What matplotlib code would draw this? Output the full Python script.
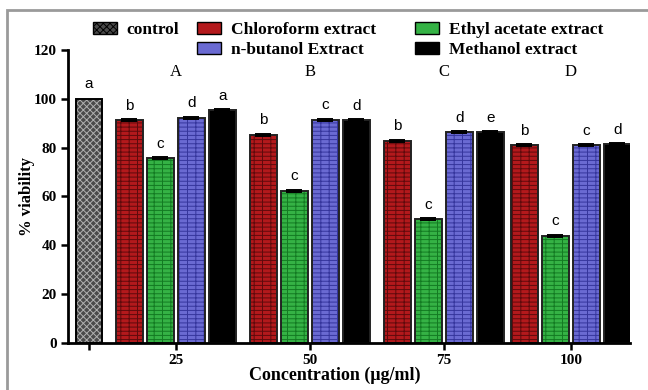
import numpy as np
import matplotlib.pyplot as plt
from matplotlib.patches import Patch, Rectangle

# data
groups = ['25', '50', '75', '100']
group_tags = ['A', 'B', 'C', 'D']
control_value = 100.0
control_letter = 'a'
series = ['Chloroform extract', 'Ethyl acetate extract', 'n-butanol Extract', 'Methanol extract']
chloroform = [91.2, 85.3, 82.8, 81.0]
ethyl_acetate = [75.6, 62.4, 50.6, 44.0]
butanol = [92.3, 91.5, 86.2, 81.0]
methanol = [95.4, 91.2, 86.2, 81.5]
letters = [['b', 'b', 'b', 'b'],
           ['c', 'c', 'c', 'c'],
           ['d', 'c', 'd', 'c'],
           ['a', 'd', 'e', 'd']]

plt.rcParams['hatch.linewidth'] = 0.7
serif = 'Liberation Serif'

face = ['#b3191c', '#35b245', '#6a6ad2', '#000000']
hatchc = ['#5e0a0c', '#137a22', '#35359c', '#000000']
hatches = ['----||', '----||', '----||', None]

fig = plt.figure(figsize=(6.48, 3.9), dpi=100)
ax = fig.add_axes([0.105, 0.1205, 0.867, 0.7515])

centers = np.array([2.8, 7.12, 11.45, 15.55])
offsets = [-1.5, -0.5, 0.5, 1.5]
w = 0.86

# control bar
ax.bar(0, control_value, w, color='#4a4a4a', edgecolor='#b0b0b0', linewidth=0, hatch='xxxxx')
ax.bar(0, control_value, w, fill=False, edgecolor='black', linewidth=1.4)
ax.text(0, control_value + 3, control_letter, ha='center', va='bottom', fontsize=11, family='Liberation Sans')

values = [chloroform, ethyl_acetate, butanol, methanol]
for i, vals in enumerate(values):
    x = centers + offsets[i]
    ax.bar(x, vals, w, color=face[i], edgecolor=hatchc[i], linewidth=0, hatch=hatches[i])
    ax.bar(x, vals, w, fill=False, edgecolor='#222222', linewidth=1.4)
    ax.errorbar(x, vals, yerr=0.4, fmt='none', ecolor='black', capsize=6, elinewidth=1, capthick=1.4)
    for xi, v, lt in zip(x, vals, letters[i]):
        ax.text(xi, v + 3, lt, ha='center', va='bottom', fontsize=11, family='Liberation Sans')

for c, t in zip(centers, group_tags):
    ax.text(c, 111, t, ha='center', va='center', fontsize=12, family=serif)

ax.set_xlim(-0.68, 17.45)
ax.set_ylim(0, 120)
ax.set_yticks(range(0, 121, 20))
ax.set_xticks([0] + list(centers))
ax.set_xticklabels([''] + groups)
for lab in ax.get_xticklabels() + ax.get_yticklabels():
    lab.set_family(serif)
    lab.set_fontweight('bold')
    lab.set_fontsize(11)
ax.tick_params(width=1.8, length=5, direction='out', pad=3)
for s in ['top', 'right']:
    ax.spines[s].set_visible(False)
for s in ['left', 'bottom']:
    ax.spines[s].set_linewidth(2)

ax.set_ylabel('% viability', family=serif, fontweight='bold', fontsize=12)
ax.yaxis.set_label_coords(-0.058, 0.5)
ax.set_xlabel('Concentration (\u03bcg/ml)', family=serif, fontweight='bold', fontsize=13)
ax.xaxis.set_label_coords(0.475, -0.082)

legend_font = {'family': serif, 'weight': 'bold', 'size': 12.5}
handles_a = [
    Patch(facecolor='#4a4a4a', edgecolor='black', hatch='xxxxx', label='control'),
    Patch(visible=False, label=' '),
    Patch(facecolor=face[0], edgecolor='black', label=series[0]),
    Patch(facecolor=face[2], edgecolor='black', label=series[2]),
]
handles_b = [
    Patch(facecolor=face[1], edgecolor='black', label=series[1]),
    Patch(facecolor=face[3], edgecolor='black', label=series[3]),
]
leg_opts = dict(loc='upper left', frameon=False, prop=legend_font, borderpad=0, borderaxespad=0,
                handlelength=1.4, handleheight=0.7, handletextpad=0.55, labelspacing=0.2)
fig.legend(handles=handles_a, ncol=2, bbox_to_anchor=(93 / 648, 1 - 22 / 390), columnspacing=1.0, **leg_opts)
fig.legend(handles=handles_b, ncol=1, bbox_to_anchor=(415 / 648, 1 - 22 / 390), **leg_opts)

# grey frame around the picture
fig.add_artist(Rectangle((7 / 648, -0.1), 1.2, 1.1 - 10 / 390, transform=fig.transFigure,
                         fill=False, edgecolor='#9a9a9a', linewidth=2))

fig.savefig('out.png', dpi=100)
